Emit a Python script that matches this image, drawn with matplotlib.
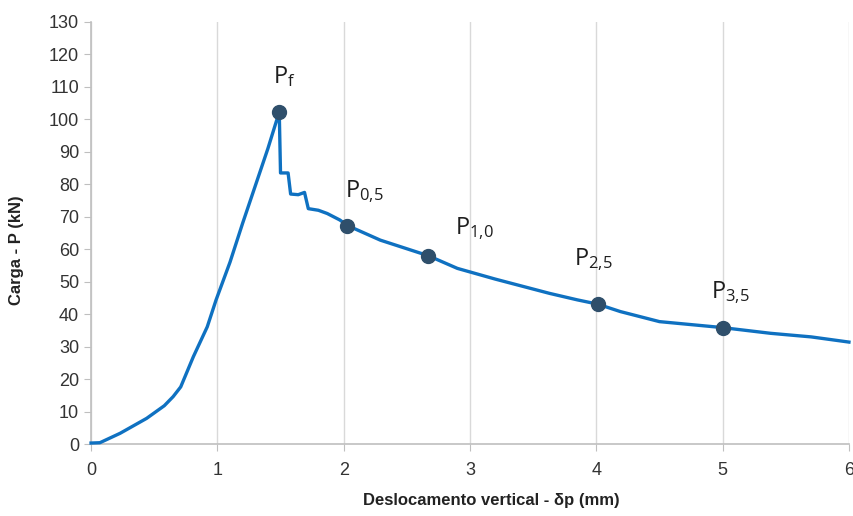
import numpy as np
import matplotlib
matplotlib.use("Agg")
import matplotlib.pyplot as plt

# curva carga x deslocamento
desloc = [0, 0.07, 0.23, 0.44, 0.58, 0.65, 0.71, 0.81, 0.92, 0.99, 1.1, 1.2, 1.3, 1.4, 1.49,
          1.50, 1.56, 1.58, 1.64, 1.69, 1.72, 1.80, 1.87, 1.97, 2.03, 2.29, 2.67, 2.9,
          3.2, 3.63, 3.85, 4.01, 4.19, 4.5, 4.99, 5.38, 5.7, 6.0]
carga = [0.3, 0.4, 3.3, 7.9, 11.8, 14.6, 17.6, 26.9, 36.1, 44.4, 56, 68, 79.5, 91, 102.3,
         83.5, 83.5, 77, 76.8, 77.5, 72.5, 72, 71, 69, 67.3, 62.8, 58, 54.1,
         50.8, 46.4, 44.4, 43.1, 40.8, 37.7, 35.9, 34.1, 33, 31.4]

# pontos marcados
pts_x = [1.49, 2.03, 2.67, 4.01, 5.0]
pts_y = [102.3, 67.3, 58.0, 43.1, 35.8]
pts_lab = [r"$\mathregular{P_f}$", r"$\mathregular{P_{0{,}5}}$", r"$\mathregular{P_{1{,}0}}$",
           r"$\mathregular{P_{2{,}5}}$", r"$\mathregular{P_{3{,}5}}$"]
lab_x = [1.44, 2.01, 2.88, 3.82, 4.91]
lab_y = [111.2, 76.2, 64.7, 55.1, 44.9]

plt.rcParams["font.family"] = ["Liberation Sans", "DejaVu Sans"]

fig = plt.figure(figsize=(8.54, 5.16), dpi=100)
ax = fig.add_axes([0.1066, 0.1395, 0.8875, 0.8179])

ax.plot(desloc, carga, color="#0f71c1", lw=2.4, solid_joinstyle="round", zorder=3, clip_on=False)
ax.plot(pts_x, pts_y, "o", color="#2f4f6b", ms=10, zorder=4, clip_on=False)

for tx, ty, t in zip(lab_x, lab_y, pts_lab):
    ax.text(tx, ty, t, fontsize=17, family="Open Sans", color="#1e1e1e",
            ha="left", va="baseline")

ax.set_xlim(0, 6)
ax.set_ylim(0, 130)
ax.set_xticks(np.arange(0, 7, 1))
ax.set_yticks(np.arange(0, 131, 10))

ax.grid(axis="x", color="#d9d9d9", lw=1)
ax.set_axisbelow(True)
for s in ["top", "right"]:
    ax.spines[s].set_visible(False)
for s in ["left", "bottom"]:
    ax.spines[s].set_color("#bfbfbf")
    ax.spines[s].set_linewidth(1.2)
ax.tick_params(axis="both", colors="#bfbfbf", labelcolor="#333333", labelsize=13, length=5)
ax.tick_params(axis="x", pad=8)

ax.set_xlabel("Deslocamento vertical - δp (mm)", fontsize=12, fontweight="bold", color="#222222")
ax.set_ylabel("Carga - P (kN)", fontsize=12, fontweight="bold", color="#222222")
ax.xaxis.set_label_coords(0.528, -0.115)
ax.yaxis.set_label_coords(-0.088, 0.46)

fig.savefig("out.png", dpi=100)
